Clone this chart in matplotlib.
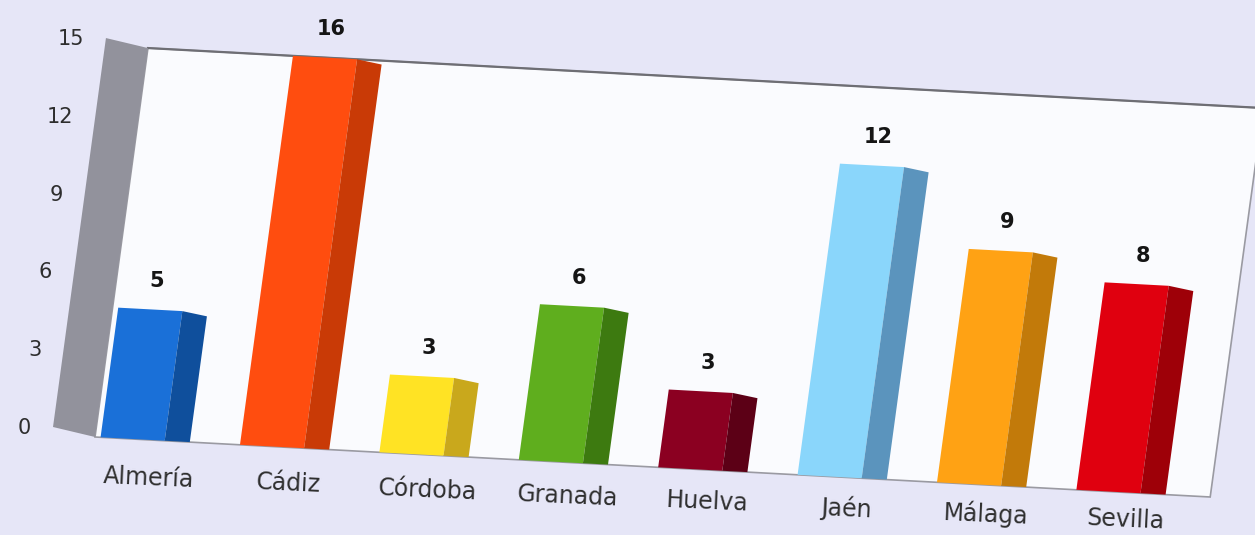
import numpy as np
import matplotlib.pyplot as plt
from matplotlib.transforms import Affine2D
from matplotlib.patches import Polygon, Rectangle

# data
provincias = ["Almería", "Cádiz", "Córdoba", "Granada", "Huelva", "Jaén", "Málaga", "Sevilla"]
valores = [5, 16, 3, 6, 3, 12, 9, 8]
yticks = [0, 3, 6, 9, 12, 15]
ymax = 15

colores = ["#1a70d8", "#ff4d0f", "#ffe324", "#5fae1e", "#8b0021", "#8ad6fb", "#ffa214", "#e0000f"]
colores_lado = ["#0f4f9c", "#c93a06", "#c9a81c", "#3d7a10", "#5c0016", "#5b94bd", "#c27a0a", "#9e0008"]

W, H = 1255, 535
fig = plt.figure(figsize=(W / 100, H / 100), dpi=100)
fig.patch.set_facecolor("#e6e6f7")
ax = fig.add_axes([0, 0, 1, 1])
ax.set_xlim(0, W)
ax.set_ylim(H, 0)
ax.axis("off")

# tilted chart plane: (category, value) -> pixel position on the canvas
M = np.array([[139.4, 3.53, 95.0],
              [7.5, -25.93, 437.0],
              [0.0, 0.0, 1.0]])
chart = Affine2D(M)
tr = chart + ax.transData

n = len(provincias)
x = np.arange(n)
alturas = np.minimum(valores, ymax)  # Cádiz is cut at the top of the plot

# plot area
ax.add_patch(Rectangle((0, 0), n, ymax, transform=tr, facecolor="#fafbfe",
                       edgecolor="#9a9aa2", linewidth=1.2, zorder=1))
ax.plot([0, n], [ymax, ymax], transform=tr, color="#6e6e74", linewidth=1.6, zorder=1)

# grey side wall on the left
d = np.linalg.solve(M[:2, :2], [-42.0, -10.0])  # wall depth in data units
wall = [(0, 0), (0, ymax), (d[0], ymax + d[1]), (d[0], d[1])]
ax.add_patch(Polygon(wall, closed=True, transform=tr, facecolor="#92929c",
                     edgecolor="none", zorder=2))

# bars: front face + darker side face
ancho = 0.46
lado_x, lado_y = 0.18, -0.15
ax.bar(x + 0.04, alturas, width=ancho, align="edge", color=colores,
       transform=tr, zorder=3)
for i, h in enumerate(alturas):
    x1 = i + 0.04 + ancho
    lado = [(x1, 0), (x1, h), (x1 + lado_x, h + lado_y), (x1 + lado_x, 0)]
    ax.add_patch(Polygon(lado, closed=True, transform=tr,
                         facecolor=colores_lado[i], edgecolor="none", zorder=3))

# value labels
for i, (v, h) in enumerate(zip(valores, alturas)):
    ax.text(i + 0.29, h + 1.1, str(v), transform=tr, ha="center", va="center",
            fontsize=15, fontweight="bold", color="#151515", zorder=4)

# category labels, tilted a little less than the baseline
for i, nombre in enumerate(provincias):
    ax.text(i + 0.42, -1.45 + 0.055 * i, nombre, transform=tr, ha="center", va="center",
            rotation=-2.6, rotation_mode="anchor", fontsize=17, color="#2e2e2e")

# y tick labels, left of the wall
tr_ticks = chart + Affine2D().translate(-64, -9) + ax.transData
for t in yticks:
    ax.text(0, t, str(t), transform=tr_ticks, ha="right", va="center",
            fontsize=15, color="#2e2e2e")

fig.savefig("out.png", dpi=100, facecolor=fig.get_facecolor())
